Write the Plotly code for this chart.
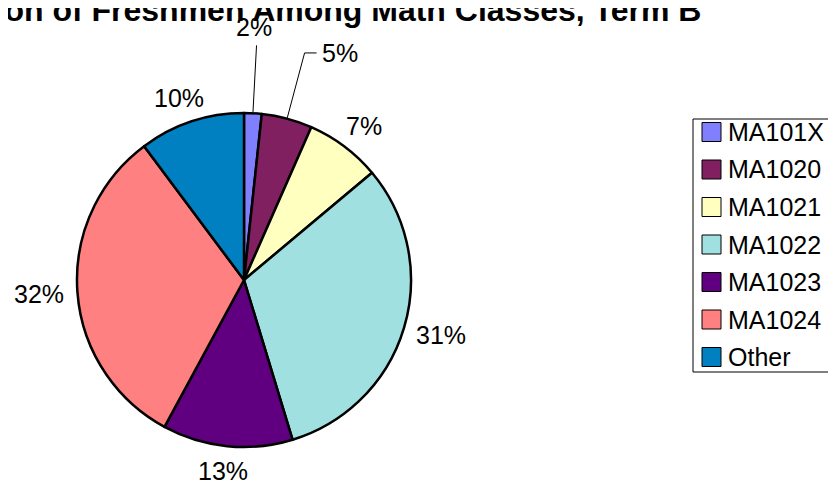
import math
import plotly.graph_objects as go

# data
classes = ["MA101X", "MA1020", "MA1021", "MA1022", "MA1023", "MA1024", "Other"]
share = [1.7, 4.9, 7.3, 31.4, 12.6, 31.9, 10.2]
colors = ["#8080FF", "#802060", "#FFFFC0", "#A0E0E0", "#600080", "#FF8080", "#0080C0"]
title = "Distribution of Freshmen Among Math Classes, Term B"

W, H = 836, 485
OFF = 8                     # page body margin, positions below are screen px
cx, cy, R = 244, 280, 167   # pie centre / radius
FONT = "Liberation Sans, Arial, sans-serif"
FS = 25


def px(x):
    return (x - OFF) / W


def py(y):
    return 1 - (y - OFF) / H


def seg(x0, y0, x1, y1):
    return dict(type="line", xref="paper", yref="paper",
                x0=px(x0), y0=py(y0), x1=px(x1), y1=py(y1),
                line=dict(color="black", width=1))


def text(t, x, y, xa="center", ya="middle", size=FS):
    return dict(text=t, showarrow=False, xref="paper", yref="paper",
                x=px(x), y=py(y), xanchor=xa, yanchor=ya,
                font=dict(size=size, family=FONT, color="black"))


# percentage labels placed around the pie from the slice mid angles
total = sum(share)
annots = []
shapes = []
acc = 0
for v in share:
    pct = round(v / total * 100)
    ang = math.radians((acc + v / 2) / total * 360)
    acc += v
    s, c = math.sin(ang), math.cos(ang)
    lab = f"{pct}%"
    if pct < 6:
        # small slices get a leader line
        r1 = R + 68
        x1, y1 = cx + r1 * s, cy - r1 * c
        shapes.append(seg(cx + R * s, cy - R * c, x1, y1))
        if abs(s) < 0.15:
            annots.append(text(lab, x1 - 3, y1 - 2, ya="bottom"))
        else:
            shapes.append(seg(x1, y1, x1 + 12, y1))
            annots.append(text(lab, x1 + 15, y1, xa="left"))
    else:
        # label box just touching a ring outside the pie
        r2 = R + 14
        w = FS * (0.556 * (len(lab) - 1) + 0.889)
        h = 22
        annots.append(text(lab, cx + r2 * s + s * w / 2, cy - r2 * c - c * h / 2))

# title sits partly outside the page, as in the original
annots.append(text(f"<b>{title}</b>", 703, 10, xa="right", size=32))

# legend box, cut by the right edge like the original
lg_x, lg_top, row_h = 693, 119, 37.5
shapes.append(dict(type="rect", xref="paper", yref="paper",
                   x0=px(lg_x), x1=px(W + OFF + 20), y0=py(lg_top),
                   y1=py(lg_top + 13 + row_h * (len(classes) - 1) + 15),
                   line=dict(color="black", width=1), fillcolor="white", layer="below"))
for i, (name, col) in enumerate(zip(classes, colors)):
    yc = lg_top + 13 + row_h * i
    shapes.append(dict(type="rect", xref="paper", yref="paper",
                       x0=px(lg_x + 9), x1=px(lg_x + 28), y0=py(yc - 9.5), y1=py(yc + 9.5),
                       line=dict(color="black", width=1), fillcolor=col))
    annots.append(text(name, lg_x + 33, yc, xa="left"))

fig = go.Figure()
fig.add_trace(go.Pie(
    labels=classes, values=share, sort=False, direction="clockwise", rotation=0,
    marker=dict(colors=colors, line=dict(color="black", width=2.5)),
    textinfo="none", hoverinfo="label+percent", showlegend=False,
    domain=dict(x=[px(cx - R), px(cx + R)], y=[py(cy + R), py(cy - R)]),
))

fig.update_layout(
    width=W, height=H,
    margin=dict(l=0, r=0, t=0, b=0),
    paper_bgcolor="white", plot_bgcolor="white",
    font=dict(family=FONT, color="black"),
    showlegend=False,
    annotations=annots,
    shapes=shapes,
)

fig.write_html("out.html")
